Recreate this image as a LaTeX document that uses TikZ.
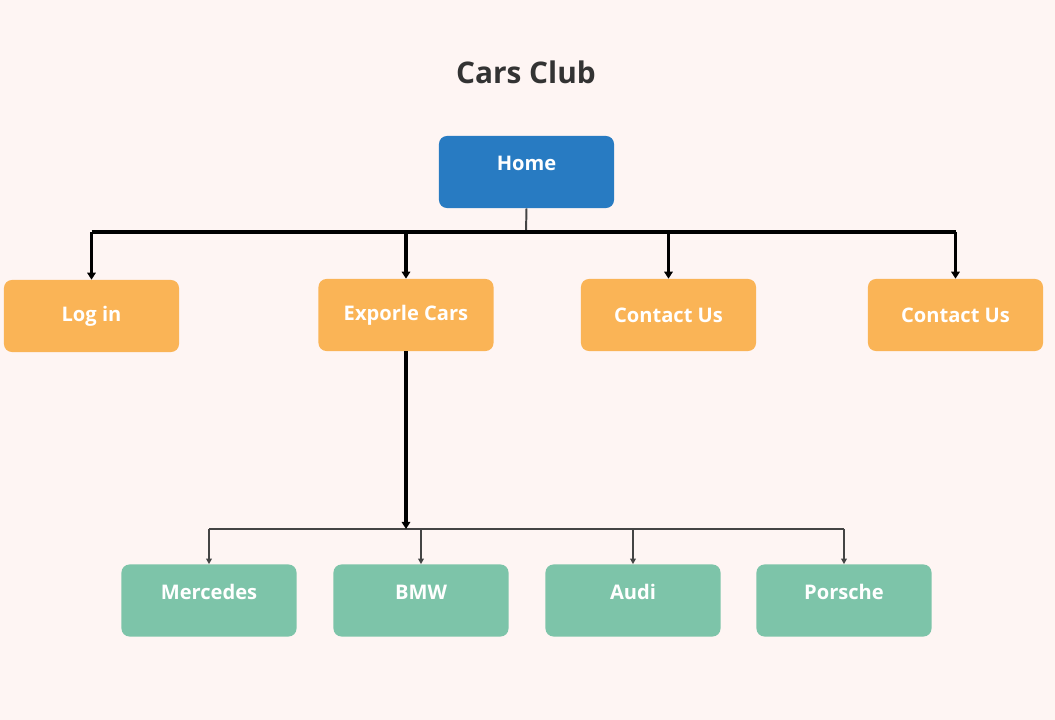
\documentclass[tikz,border=0pt]{standalone}
\usepackage{fontspec}
\setmainfont{Open Sans}
\usepackage{tikz}
\usetikzlibrary{arrows.meta}
\definecolor{bgpage}{HTML}{FEF5F3}
\definecolor{homeblue}{HTML}{287BC2}
\definecolor{pageorange}{HTML}{FAB456}
\definecolor{carsgreen}{HTML}{7DC4A9}
\definecolor{titlegray}{HTML}{333333}
\definecolor{wiregray}{HTML}{444444}
\tikzset{
  pagebox/.style={rectangle, rounded corners=0.2cm, minimum width=4.375cm, minimum height=1.8cm,
    text=white, font=\fontsize{14.3}{16}\selectfont\bfseries, inner sep=0pt},
  homebox/.style={pagebox, fill=homeblue, text height=0.35cm, text depth=0.4cm},
  menubox/.style={pagebox, fill=pageorange},
  carbox/.style={pagebox, fill=carsgreen, text height=0.35cm, text depth=0.38cm},
  thickwire/.style={line width=2.2pt, black},
  thickarr/.style={thickwire, -{Triangle[length=5pt,width=6pt]}},
  thinwire/.style={line width=1.4pt, wiregray},
  thinarr/.style={line width=1pt, wiregray, -{Triangle[length=4pt,width=4pt]}}
}
\begin{document}
\begin{tikzpicture}[x=0.025cm, y=-0.025cm]
  \fill[bgpage] (0,0) rectangle (1055,720);

  % title
  \node[text=titlegray, font=\fontsize{21.2}{24}\selectfont\bfseries] (title) at (526,72) {Cars Club};

  % top level
  \node[homebox] (home) at (526.5,172) {Home};
  \node[menubox] (login) at (91.5,316) {Log in};
  \node[menubox] (explore) at (406,315) {Exporle Cars};
  \node[menubox] (contact) at (668.5,315) {Contact Us};
  \node[menubox] (contacttwo) at (955.5,315) {Contact Us};

  % cars
  \node[carbox] (merc) at (209,600.5) {Mercedes};
  \node[carbox] (bmw) at (421,600.5) {BMW};
  \node[carbox] (audi) at (633,600.5) {Audi};
  \node[carbox] (porsche) at (844,600.5) {Porsche};

  \coordinate (hub) at (526,232);
  \coordinate (subhub) at (406,529);

  % home to menu
  \draw[thinwire] (home.south) -- (hub);
  \draw[thickwire] (login.north |- hub) -- (contacttwo.north |- hub);
  \foreach \pg in {login,explore,contact,contacttwo}
    \draw[thickarr] (\pg.north |- hub) -- (\pg.north);

  % explore to cars
  \draw[thinwire] (merc.north |- subhub) -- (porsche.north |- subhub);
  \draw[thickarr] (explore.south) -- (subhub);
  \foreach \car in {merc,bmw,audi,porsche}
    \draw[thinarr] (\car.north |- subhub) -- (\car.north);
\end{tikzpicture}
\end{document}
